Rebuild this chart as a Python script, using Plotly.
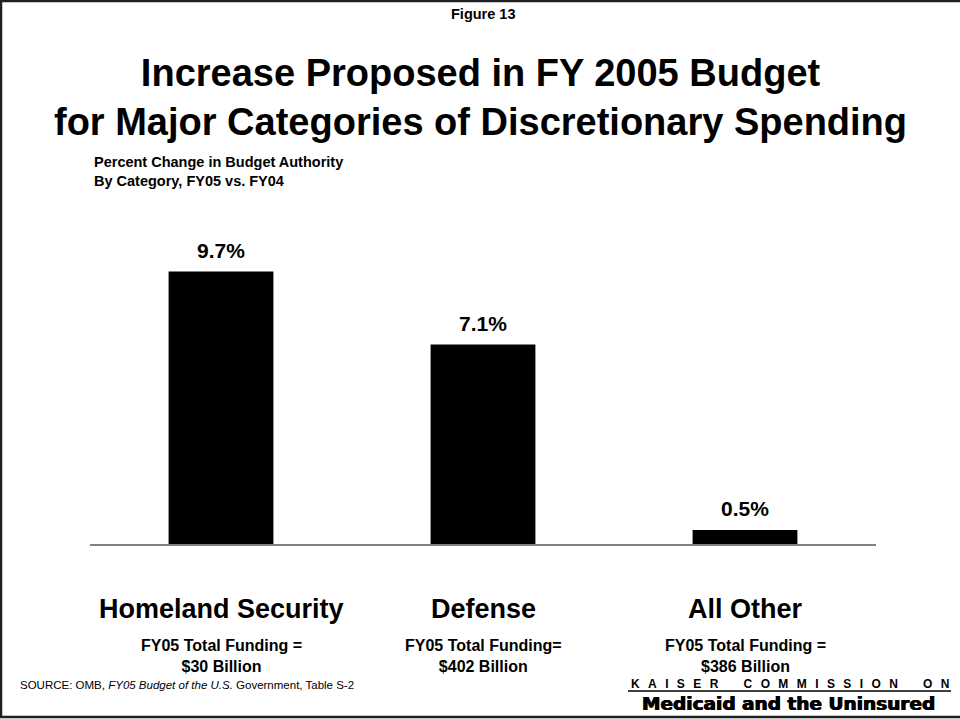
import plotly.graph_objects as go

# Percent change in budget authority, FY05 vs. FY04
categories = ["Homeland Security", "Defense", "All Other"]
pct_change = [9.7, 7.1, 0.5]
value_labels = ["9.7%", "7.1%", "0.5%"]
funding_labels = [
    "FY05 Total Funding =<br>$30 Billion",
    "FY05 Total Funding=<br>$402 Billion",
    "FY05 Total Funding =<br>$386 Billion",
]

W, H = 960, 719
L, R, T, B = 90, 84, 207, 175
PW, PH = W - L - R, H - T - B
FONT = "Liberation Sans, Arial, sans-serif"
HEAVY = "DejaVu Sans, Liberation Sans, sans-serif"


def px_x(px):
    return (px - L) / PW


def px_y(py):
    return (H - B - py) / PH


fig = go.Figure(
    go.Bar(
        x=categories,
        y=pct_change,
        marker=dict(color="black", line=dict(width=0)),
        width=0.4,
        hoverinfo="skip",
    )
)

annotations = []
# value labels above each bar
for cat, val, lab in zip(categories, pct_change, value_labels):
    annotations.append(dict(
        x=cat, y=val, xref="x", yref="y", text=f"<b>{lab}</b>",
        showarrow=False, yanchor="bottom", yshift=8,
        font=dict(family=FONT, size=21, color="black"),
    ))
# category names and funding notes below the axis
for cat, fund in zip(categories, funding_labels):
    annotations.append(dict(
        x=cat, y=0, xref="x", yref="y", text=f"<b>{cat}</b>",
        showarrow=False, yanchor="middle", yshift=-(609 - 544),
        font=dict(family=FONT, size=27, color="black"),
    ))
    annotations.append(dict(
        x=cat, y=0, xref="x", yref="y", text=f"<b>{fund}</b>",
        showarrow=False, yanchor="middle", yshift=-(656 - 544),
        font=dict(family=FONT, size=16, color="black"),
    ))

GAP = "\u2002\u2009"
kaiser = (GAP * 3).join(GAP.join(word) for word in ["KAISER", "COMMISSION", "ON"])

# headings
annotations += [
    dict(x=0.5, y=px_y(14), xref="paper", yref="paper", xanchor="center",
         yanchor="middle", text="<b>Figure 13</b>", showarrow=False,
         font=dict(family=FONT, size=14.5, color="black")),
    dict(x=px_x(480), y=px_y(97), xref="paper", yref="paper", xanchor="center",
         yanchor="middle",
         text="<b>Increase Proposed in FY 2005 Budget<br>for Major Categories of Discretionary Spending</b>",
         showarrow=False, font=dict(family=FONT, size=38, color="black")),
    dict(x=px_x(92), y=px_y(171), xref="paper", yref="paper", xanchor="left",
         yanchor="middle", align="left",
         text="<b>Percent Change in Budget Authority<br>By Category, FY05 vs. FY04</b>",
         showarrow=False, font=dict(family=FONT, size=14.5, color="black")),
    dict(x=px_x(18), y=px_y(685), xref="paper", yref="paper", xanchor="left",
         yanchor="middle", align="left",
         text="SOURCE: OMB, <i>FY05 Budget of the U.S.</i> Government, Table S-2",
         showarrow=False, font=dict(family=FONT, size=11.5, color="black")),
    dict(x=px_x(951), y=px_y(684), xref="paper", yref="paper", xanchor="right",
         yanchor="middle", text=f"<b>{kaiser}</b>", showarrow=False,
         font=dict(family=FONT, size=12, color="black")),
    dict(x=px_x(788), y=px_y(703), xref="paper", yref="paper", xanchor="center",
         yanchor="middle", text="<b>Medicaid and the Uninsured</b>",
         showarrow=False,
         font=dict(family=HEAVY, size=18.5, color="black",
                   shadow="0.6px 0 0 black, -0.4px 0 0 black")),
]

# frame around the slide (top, left, bottom edges)
frame = dict(
    type="path", xref="paper", yref="paper",
    path=(f"M {px_x(961)},{px_y(1)} L {px_x(1)},{px_y(1)} "
          f"L {px_x(1)},{px_y(717)} L {px_x(961)},{px_y(717)}"),
    line=dict(color="#202020", width=2.5),
)
# rule under the commission name
rule = dict(
    type="line", xref="paper", yref="paper",
    x0=px_x(628), x1=px_x(951), y0=px_y(691), y1=px_y(691),
    line=dict(color="black", width=1.5),
)

fig.update_layout(
    width=W, height=H,
    margin=dict(l=L, r=R, t=T, b=B, pad=0),
    paper_bgcolor="white", plot_bgcolor="white",
    showlegend=False,
    annotations=annotations,
    shapes=[frame, rule],
    xaxis=dict(
        range=[-0.5, 2.5], showticklabels=False, ticks="",
        showgrid=False, zeroline=False,
        showline=True, linecolor="#808080", linewidth=2,
    ),
    yaxis=dict(
        range=[0, 12], visible=False, showgrid=False, zeroline=False,
    ),
    font=dict(family=FONT, color="black"),
)

fig.write_html("out.html")
